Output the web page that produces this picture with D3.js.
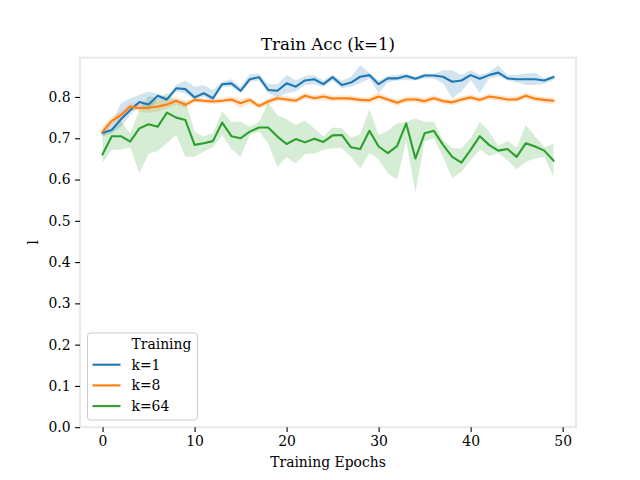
<!DOCTYPE html>
<html lang="en">
<head>
    <meta charset="UTF-8">
    <title>Train Acc (k=1)</title>
    <style>
        body { margin: 0; background: #fff; }
        svg { display: block; font-family: "DejaVu Serif", serif; }
    </style>
</head>
<body>
    <div id="chart"></div>

    <script src="https://d3js.org/d3.v7.min.js"></script>
    <script>
        // values, one per epoch (0..49)
        const k1Mean = [0.713, 0.720, 0.746, 0.768, 0.788, 0.782, 0.803, 0.794, 0.821, 0.819,
                        0.799, 0.809, 0.797, 0.831, 0.833, 0.815, 0.843, 0.848, 0.817, 0.815,
                        0.833, 0.825, 0.840, 0.843, 0.831, 0.848, 0.829, 0.835, 0.849, 0.853,
                        0.831, 0.845, 0.845, 0.851, 0.844, 0.852, 0.852, 0.849, 0.837, 0.840,
                        0.853, 0.844, 0.853, 0.859, 0.845, 0.843, 0.843, 0.843, 0.840, 0.848];
        const k1Low  = [0.704, 0.712, 0.728, 0.756, 0.777, 0.768, 0.793, 0.789, 0.813, 0.809,
                        0.793, 0.801, 0.789, 0.825, 0.825, 0.809, 0.837, 0.840, 0.809, 0.799,
                        0.809, 0.813, 0.829, 0.831, 0.825, 0.840, 0.821, 0.825, 0.833, 0.845,
                        0.810, 0.835, 0.840, 0.841, 0.840, 0.845, 0.845, 0.833, 0.797, 0.813,
                        0.841, 0.810, 0.845, 0.850, 0.840, 0.835, 0.829, 0.829, 0.832, 0.841];
        const k1High = [0.722, 0.735, 0.785, 0.797, 0.805, 0.813, 0.808, 0.800, 0.829, 0.840,
                        0.825, 0.829, 0.817, 0.837, 0.843, 0.825, 0.856, 0.856, 0.831, 0.831,
                        0.853, 0.840, 0.851, 0.853, 0.840, 0.853, 0.840, 0.849, 0.877, 0.859,
                        0.840, 0.851, 0.853, 0.857, 0.849, 0.857, 0.856, 0.865, 0.865, 0.853,
                        0.865, 0.853, 0.860, 0.877, 0.853, 0.853, 0.857, 0.859, 0.845, 0.853];

        const k8Mean = [0.716, 0.742, 0.756, 0.777, 0.773, 0.774, 0.777, 0.782, 0.791, 0.781,
                        0.793, 0.791, 0.789, 0.791, 0.794, 0.785, 0.793, 0.778, 0.789, 0.797,
                        0.794, 0.791, 0.803, 0.797, 0.801, 0.796, 0.797, 0.796, 0.793, 0.792,
                        0.801, 0.794, 0.786, 0.794, 0.794, 0.790, 0.797, 0.790, 0.787, 0.794,
                        0.799, 0.793, 0.801, 0.798, 0.794, 0.794, 0.803, 0.796, 0.793, 0.791];
        const k8Low  = [0.702, 0.732, 0.748, 0.770, 0.764, 0.762, 0.765, 0.772, 0.782, 0.772,
                        0.787, 0.785, 0.783, 0.784, 0.787, 0.772, 0.785, 0.772, 0.780, 0.790,
                        0.788, 0.784, 0.796, 0.790, 0.792, 0.789, 0.791, 0.789, 0.786, 0.785,
                        0.793, 0.787, 0.778, 0.787, 0.787, 0.782, 0.790, 0.783, 0.780, 0.787,
                        0.792, 0.786, 0.794, 0.791, 0.787, 0.787, 0.796, 0.789, 0.785, 0.783];
        const k8High = [0.728, 0.752, 0.766, 0.785, 0.783, 0.786, 0.790, 0.792, 0.799, 0.790,
                        0.799, 0.797, 0.795, 0.798, 0.801, 0.795, 0.800, 0.785, 0.797, 0.804,
                        0.801, 0.798, 0.810, 0.804, 0.809, 0.803, 0.804, 0.803, 0.800, 0.800,
                        0.810, 0.801, 0.793, 0.801, 0.801, 0.798, 0.804, 0.797, 0.794, 0.801,
                        0.806, 0.800, 0.808, 0.805, 0.801, 0.801, 0.810, 0.803, 0.800, 0.798];

        const k64Mean = [0.661, 0.705, 0.705, 0.692, 0.724, 0.734, 0.728, 0.762, 0.750, 0.744,
                         0.684, 0.688, 0.693, 0.738, 0.705, 0.700, 0.716, 0.726, 0.726, 0.704,
                         0.686, 0.698, 0.690, 0.699, 0.691, 0.707, 0.708, 0.678, 0.674, 0.718,
                         0.680, 0.664, 0.681, 0.736, 0.651, 0.712, 0.718, 0.684, 0.655, 0.641,
                         0.672, 0.705, 0.684, 0.670, 0.674, 0.655, 0.688, 0.680, 0.670, 0.646];
        const k64Low  = [0.640, 0.672, 0.672, 0.678, 0.615, 0.662, 0.670, 0.688, 0.708, 0.655,
                         0.655, 0.668, 0.678, 0.708, 0.674, 0.655, 0.708, 0.716, 0.688, 0.631,
                         0.654, 0.639, 0.662, 0.663, 0.672, 0.676, 0.676, 0.655, 0.627, 0.665,
                         0.649, 0.615, 0.600, 0.692, 0.568, 0.692, 0.700, 0.655, 0.603, 0.619,
                         0.647, 0.673, 0.657, 0.664, 0.647, 0.625, 0.643, 0.651, 0.655, 0.607];
        const k64High = [0.713, 0.724, 0.742, 0.712, 0.768, 0.803, 0.795, 0.810, 0.790, 0.790,
                         0.716, 0.704, 0.713, 0.765, 0.740, 0.740, 0.728, 0.740, 0.786, 0.756,
                         0.746, 0.732, 0.743, 0.724, 0.704, 0.726, 0.724, 0.702, 0.710, 0.770,
                         0.708, 0.718, 0.736, 0.740, 0.748, 0.740, 0.740, 0.696, 0.676, 0.676,
                         0.700, 0.740, 0.716, 0.681, 0.694, 0.678, 0.732, 0.705, 0.678, 0.686];

        const seriesNames = ["k=1", "k=8", "k=64"];
        const colors = ["#1f77b4", "#ff7f0e", "#2ca02c"];
        const xTicks = [0, 10, 20, 30, 40, 50];
        const yTicks = [0.0, 0.1, 0.2, 0.3, 0.4, 0.5, 0.6, 0.7, 0.8];

        const series = [
            { name: seriesNames[0], mean: k1Mean, low: k1Low, high: k1High, color: colors[0] },
            { name: seriesNames[1], mean: k8Mean, low: k8Low, high: k8High, color: colors[1] },
            { name: seriesNames[2], mean: k64Mean, low: k64Low, high: k64High, color: colors[2] }
        ];

        const width = 640;
        const height = 480;
        // axes box, same place matplotlib puts it on a 6.4x4.8in figure
        const axLeft = 80, axRight = 576, axTop = 57.6, axBottom = 427.2;

        const svg = d3.select("#chart").append("svg")
            .attr("width", width)
            .attr("height", height);

        const x = d3.scaleLinear().domain([-2.45, 51.45]).range([axLeft, axRight]);
        const y = d3.scaleLinear().domain([0, 0.8954]).range([axBottom, axTop]);

        // confidence bands first, then the lines on top
        const area = d3.area()
            .x((d, i) => x(i))
            .y0(d => y(d[0]))
            .y1(d => y(d[1]));

        const line = d3.line()
            .x((d, i) => x(i))
            .y(d => y(d));

        const plot = svg.append("g");

        series.forEach(s => {
            plot.append("path")
                .datum(s.low.map((v, i) => [v, s.high[i]]))
                .attr("d", area)
                .attr("fill", s.color)
                .attr("fill-opacity", 0.2)
                .attr("stroke", "none");
        });

        series.forEach(s => {
            plot.append("path")
                .datum(s.mean)
                .attr("d", line)
                .attr("fill", "none")
                .attr("stroke", s.color)
                .attr("stroke-width", 2.1)
                .attr("stroke-linejoin", "round")
                .attr("stroke-linecap", "square");
        });

        // light frame around the axes
        svg.append("rect")
            .attr("x", axLeft)
            .attr("y", axTop)
            .attr("width", axRight - axLeft)
            .attr("height", axBottom - axTop)
            .attr("fill", "none")
            .attr("stroke", "#e6e6e6")
            .attr("stroke-width", 1.8);

        const xAxis = svg.append("g")
            .attr("transform", `translate(0,${axBottom})`)
            .call(d3.axisBottom(x).tickValues(xTicks).tickSize(4.9).tickPadding(4.5).tickFormat(d3.format("d")));

        const yAxis = svg.append("g")
            .attr("transform", `translate(${axLeft},0)`)
            .call(d3.axisLeft(y).tickValues(yTicks).tickSize(4.9).tickPadding(4.5).tickFormat(d3.format(".1f")));

        [xAxis, yAxis].forEach(ax => {
            ax.select(".domain").remove();
            ax.selectAll(".tick line").attr("stroke", "#000").attr("stroke-width", 1.1);
            ax.selectAll(".tick text")
                .attr("fill", "#000")
                .style("font-family", "DejaVu Serif")
                .style("font-size", "13.9px");
        });

        svg.append("text")
            .attr("x", (axLeft + axRight) / 2)
            .attr("y", 49.5)
            .attr("text-anchor", "middle")
            .style("font-size", "16.7px")
            .text("Train Acc (k=1)");

        svg.append("text")
            .attr("x", (axLeft + axRight) / 2)
            .attr("y", 467)
            .attr("text-anchor", "middle")
            .style("font-size", "13.9px")
            .text("Training Epochs");

        svg.append("text")
            .attr("transform", `translate(38,${(axTop + axBottom) / 2}) rotate(-90)`)
            .attr("text-anchor", "middle")
            .style("font-size", "13.9px")
            .text("l");

        // Legend (seaborn puts the hue title in as a blank entry)
        const legend = svg.append("g")
            .attr("transform", "translate(87.5,333)");

        legend.append("rect")
            .attr("width", 110)
            .attr("height", 87)
            .attr("rx", 3)
            .attr("fill", "#fff")
            .attr("fill-opacity", 0.8)
            .attr("stroke", "#cccccc")
            .attr("stroke-width", 1);

        const rows = [{ name: "Training", color: null }].concat(series);

        rows.forEach((r, i) => {
            const row = legend.append("g")
                .attr("transform", `translate(0,${11 + i * 20.7})`);

            if (r.color) {
                row.append("line")
                    .attr("x1", 5)
                    .attr("x2", 33)
                    .attr("stroke", r.color)
                    .attr("stroke-width", 2.1);
            }

            row.append("text")
                .attr("x", 44)
                .attr("dy", "0.35em")
                .style("font-size", "13.9px")
                .text(r.name);
        });
    </script>
</body>
</html>
